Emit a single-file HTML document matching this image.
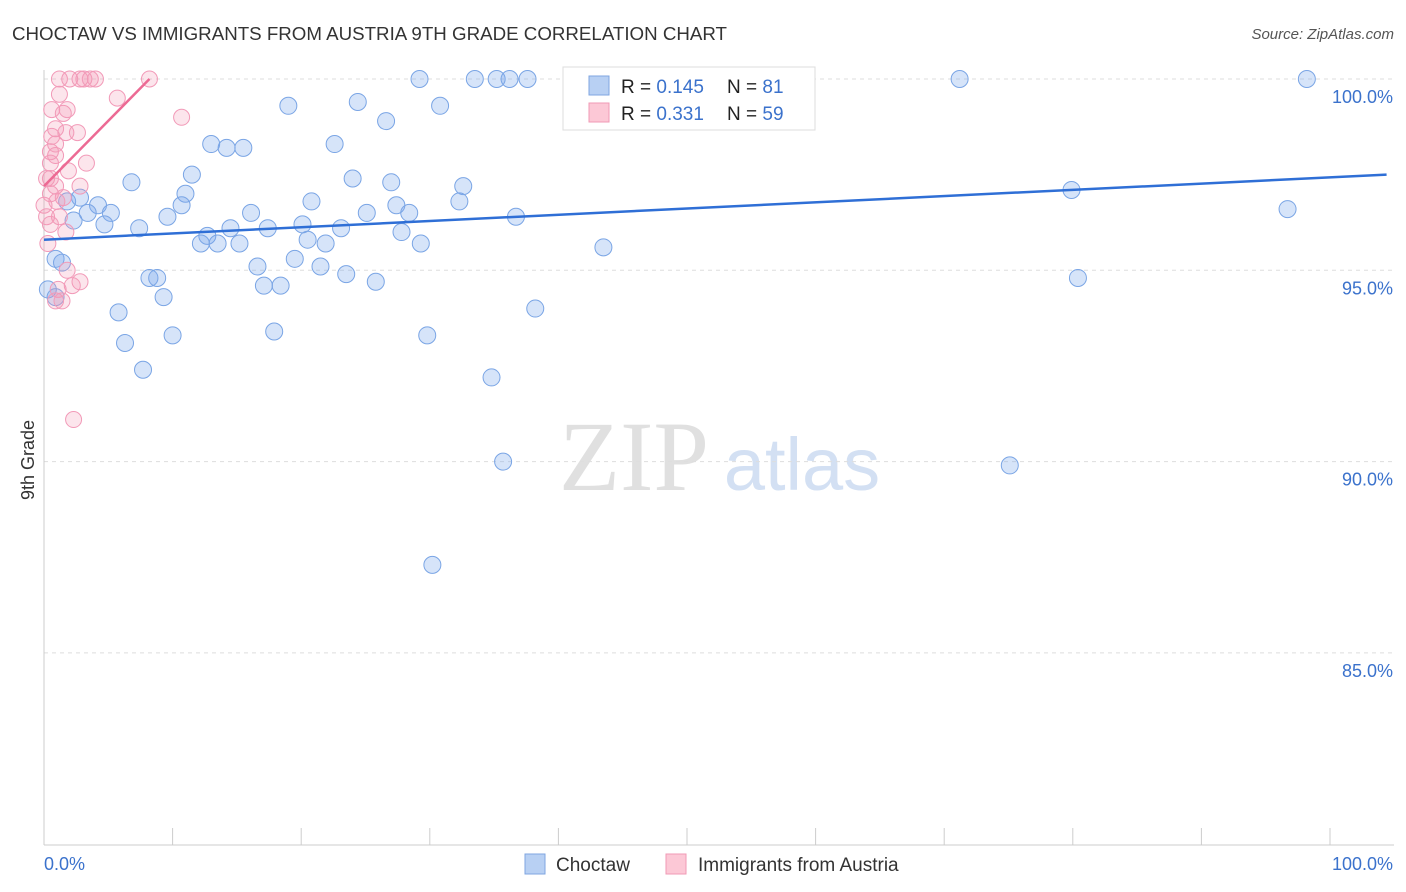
<!DOCTYPE html>
<html><head><meta charset="utf-8"><style>
body{margin:0;background:#fff;font-family:"Liberation Sans",sans-serif;}
svg{display:block}
</style></head><body>
<svg id="chart" width="1406" height="892">
<text x="12" y="40" font-size="18" fill="#333" textLength="715" lengthAdjust="spacingAndGlyphs">CHOCTAW VS IMMIGRANTS FROM AUSTRIA 9TH GRADE CORRELATION CHART</text>
<text x="1394" y="39" font-size="15" fill="#555" font-style="italic" text-anchor="end">Source: ZipAtlas.com</text>
<text x="34" y="460" font-size="18" fill="#333" transform="rotate(-90 34 460)" text-anchor="middle">9th Grade</text>
<g><text x="634" y="490" font-size="100" fill="#e0e0e0" font-family="Liberation Serif,serif" text-anchor="middle">ZIP</text><text x="802" y="490" font-size="74" fill="#d3e0f3" text-anchor="middle">atlas</text></g>
<g id="grid"></g><g id="axes"></g><g id="marks"></g>
<g>
<rect x="563" y="67" width="252" height="63" fill="#fff" stroke="#ddd"/>
<rect x="589" y="76" width="20" height="19" fill="#b8d0f3" stroke="#7fa6e0"/>
<rect x="589" y="103" width="20" height="19" fill="#fcc8d6" stroke="#f09ab5"/>
<text x="621" y="93" font-size="19" fill="#222">R = <tspan fill="#3b72cc">0.145</tspan></text>
<text x="727" y="93" font-size="19" fill="#222">N = <tspan fill="#3b72cc"> 81</tspan></text>
<text x="621" y="120" font-size="19" fill="#222">R = <tspan fill="#3b72cc">0.331</tspan></text>
<text x="727" y="120" font-size="19" fill="#222">N = <tspan fill="#3b72cc">59</tspan></text>
</g>
<g>
<rect x="525" y="854" width="20" height="20" fill="#b8d0f3" stroke="#7fa6e0"/>
<text x="556" y="871" font-size="19" fill="#333">Choctaw</text>
<rect x="666" y="854" width="20" height="20" fill="#fcc8d6" stroke="#f09ab5"/>
<text x="698" y="871" font-size="19" fill="#333">Immigrants from Austria</text>
</g>
</svg>
<script>
const yTicks=[100,95,90,85];
const yTickLabels=["100.0%","95.0%","90.0%","85.0%"];
const xTickLabels=["0.0%","100.0%"];
const blueX=[29.2,33.5,35.2,36.2,37.6,71.2,98.2,45.5,24.4,19.0,30.8,26.6,13.0,14.2,15.5,22.6,6.8,11.5,24.0,27.0,11.0,32.6,79.9,20.8,27.4,32.3,1.8,2.8,4.2,10.7,5.2,3.4,9.6,16.1,25.1,28.4,36.7,96.7,2.3,4.7,7.4,14.5,17.4,20.1,23.1,27.8,12.7,12.2,13.5,15.2,20.5,21.9,29.3,43.5,0.9,1.4,19.5,16.6,21.5,8.2,8.8,23.5,25.8,80.4,17.1,18.4,0.3,0.9,9.3,38.2,5.8,29.8,17.9,10.0,6.3,7.7,34.8,35.7,75.1,30.2];
const blueY=[100,100,100,100,100,100,100,100,99.4,99.3,99.3,98.9,98.3,98.2,98.2,98.3,97.3,97.5,97.4,97.3,97.0,97.2,97.1,96.8,96.7,96.8,96.8,96.9,96.7,96.7,96.5,96.5,96.4,96.5,96.5,96.5,96.4,96.6,96.3,96.2,96.1,96.1,96.1,96.2,96.1,96.0,95.9,95.7,95.7,95.7,95.8,95.7,95.7,95.6,95.3,95.2,95.3,95.1,95.1,94.8,94.8,94.9,94.7,94.8,94.6,94.6,94.5,94.3,94.3,94.0,93.9,93.3,93.4,93.3,93.1,92.4,92.2,90.0,89.9,87.3];
const pinkX=[1.2,2.0,2.8,3.1,3.6,4.0,8.2,5.7,10.7,1.2,1.5,0.6,1.8,0.9,2.6,1.7,0.6,0.5,0.9,3.3,0.5,0.2,1.9,0.9,2.8,0.5,1.5,1.0,0,0.2,1.2,0.5,1.7,0.3,1.8,2.8,2.2,1.1,0.9,1.4,2.3,0.5,0.9];
const pinkY=[100,100,100,100,100,100,100,99.5,99.0,99.6,99.1,99.2,99.2,98.7,98.6,98.6,98.5,98.1,98.0,97.8,97.8,97.4,97.6,97.2,97.2,97.0,96.9,96.8,96.7,96.4,96.4,96.2,96.0,95.7,95.0,94.7,94.6,94.5,94.2,94.2,91.1,97.4,98.3];
const blueTrend=[[0,95.8],[104.4,97.5]];
const pinkTrend=[[0,97.2],[8.2,100]];
const NS="http://www.w3.org/2000/svg";
const X=v=>44+v*12.86, Y=v=>79+(100-v)*38.26;
function mk(tag,attrs,parent){const e=document.createElementNS(NS,tag);for(const k in attrs)e.setAttribute(k,attrs[k]);document.getElementById(parent).appendChild(e);return e;}
yTicks.forEach((t,i)=>{
 const l=mk('line',{x1:44,x2:1394,y1:Y(t),y2:Y(t),stroke:'#ddd','stroke-dasharray':'4,4'},'grid');
 
 
 const tx=mk('text',{x:1393,y:Y(t)+24,'font-size':18,fill:'#3b72cc','text-anchor':'end'},'grid');
 tx.textContent=yTickLabels[i];
 
 
});
const ax=mk('line',{x1:44,x2:1394,y1:845,y2:845,stroke:'#ccc'},'axes');


const ay=mk('line',{x1:44,x2:44,y1:70,y2:845,stroke:'#ccc'},'axes');


for(let i=0;i<=10;i++){const t=mk('line',{x1:X(i*10),x2:X(i*10),y1:828,y2:845,stroke:'#ccc'},'axes');
 
 }
[[0,'start',44],[1,'end',1393]].forEach(([i,a,x])=>{const t=mk('text',{x:x,y:870,'font-size':18,fill:'#3b72cc','text-anchor':a},'axes');t.textContent=xTickLabels[i];
 
 });
blueX.forEach((v,i)=>{const c=mk('circle',{cx:X(v),cy:Y(blueY[i]),r:8.5,fill:'rgba(120,165,235,0.3)',stroke:'#7aa5e5','stroke-width':1},'marks');
 
 });
pinkX.forEach((v,i)=>{const c=mk('circle',{cx:X(v),cy:Y(pinkY[i]),r:8,fill:'rgba(245,150,180,0.25)',stroke:'#f29ab8','stroke-width':1},'marks');
 
 });
const bl=mk('line',{x1:X(blueTrend[0][0]),y1:Y(blueTrend[0][1]),x2:X(blueTrend[1][0]),y2:Y(blueTrend[1][1]),stroke:'#2f6fd6','stroke-width':2.5},'marks');


const pl=mk('line',{x1:X(pinkTrend[0][0]),y1:Y(pinkTrend[0][1]),x2:X(pinkTrend[1][0]),y2:Y(pinkTrend[1][1]),stroke:'#ec6a94','stroke-width':2.5},'marks');


</script>
</body></html>
